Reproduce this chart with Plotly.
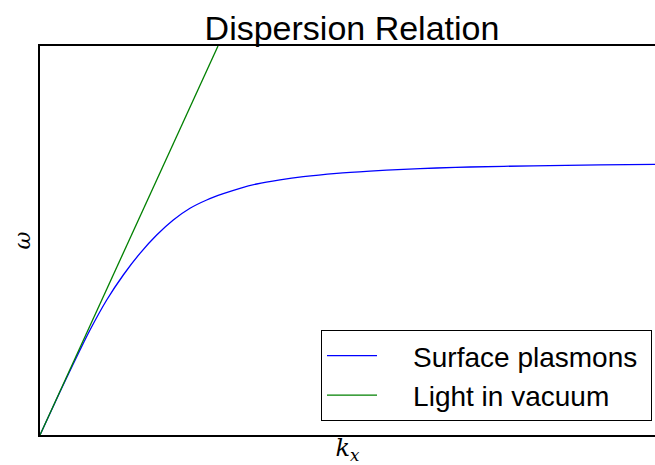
import plotly.graph_objects as go

# Surface plasmon dispersion (arbitrary units)
k_sp = [0.0, 0.2, 0.4, 0.5, 0.667, 0.833, 1.0, 1.167, 1.333, 1.5, 1.667, 1.833,
        2.0, 2.167, 2.4, 2.633, 2.967, 3.3, 3.633, 3.967, 4.3, 4.933, 5.6, 6.15]
w_sp = [0.0, 0.432, 0.85, 1.05, 1.35, 1.60, 1.817, 2.00, 2.15, 2.267, 2.35, 2.413,
        2.467, 2.51, 2.551, 2.583, 2.616, 2.639, 2.657, 2.67, 2.68, 2.692, 2.701, 2.707]

# Light line
k_light = [0.0, 1.78]
w_light = [0.0, 3.89]

x_range = [0, 6.15]
y_range = [0, 3.89]

names = ["Surface plasmons", "Light in vacuum"]
pad_l = "\u00a0" * 4
pad_r = "\u00a0" * 1

fig = go.Figure()
fig.add_trace(go.Scatter(x=k_sp, y=w_sp, mode="lines", name=pad_l + names[0] + pad_r,
                         line=dict(color="#0000ff", width=1.3, shape="spline", smoothing=0.8)))
fig.add_trace(go.Scatter(x=k_light, y=w_light, mode="lines", name=pad_l + names[1] + pad_r,
                         line=dict(color="#008000", width=1.3)))

fig.update_layout(
    width=655, height=465,
    margin=dict(l=40, r=0, t=46, b=30),
    paper_bgcolor="white", plot_bgcolor="white",
    title=dict(text="Dispersion Relation", x=(352/655), xanchor="center",
               y=1 - 28/465, yanchor="middle", yref="container",
               font=dict(family="Liberation Sans, Arial, sans-serif", size=34, color="black")),
    font=dict(family="Liberation Sans, Arial, sans-serif", color="black"),
    legend=dict(x=(652-40)/615, xanchor="right", y=(435-421)/389, yanchor="bottom",
                bgcolor="white", bordercolor="black", borderwidth=1,
                itemwidth=50,
                font=dict(size=28, color="black"), tracegroupgap=0),
    showlegend=True,
)
fig.update_xaxes(range=x_range, showline=True, mirror=True, linecolor="black", linewidth=1.5,
                 showgrid=False, zeroline=False, showticklabels=False, ticks="",
                 title=dict(text="<i>k</i><sub><i>x</i></sub>", standoff=6,
                            font=dict(family="DejaVu Serif, serif", size=24, color="black")))
fig.update_yaxes(range=y_range, showline=True, mirror=False, linecolor="black", linewidth=1.5,
                 showgrid=False, zeroline=False, showticklabels=False, ticks="",
                 title=dict(text="<i>ω</i>", standoff=2,
                            font=dict(family="DejaVu Serif, serif", size=22, color="black")))

fig.write_html("out.html")
